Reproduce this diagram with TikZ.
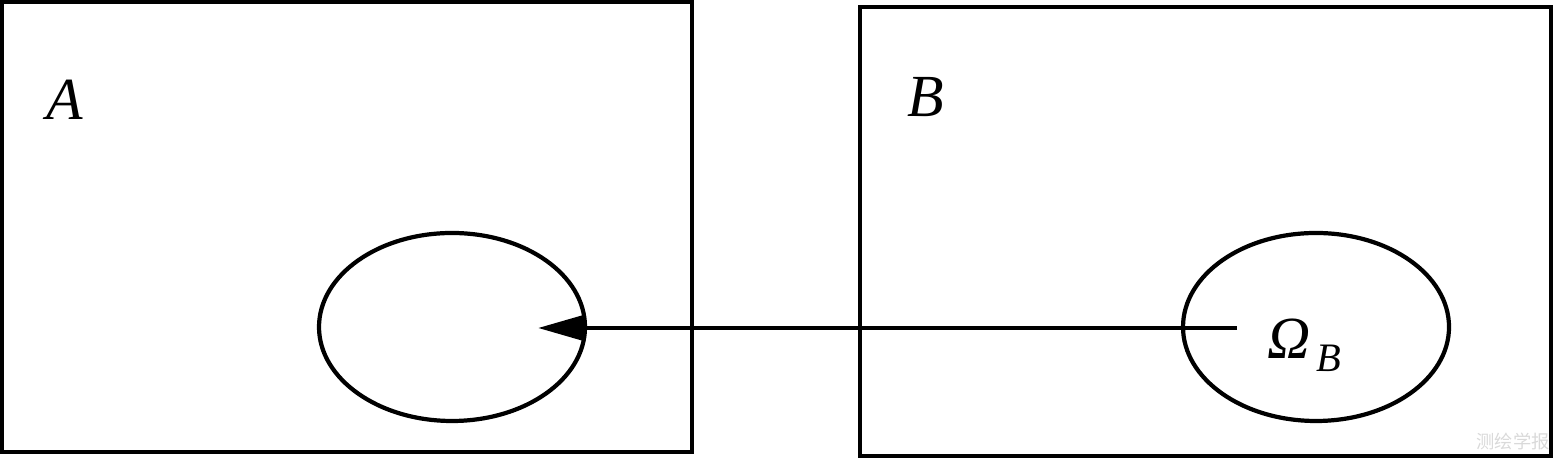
\documentclass[tikz,border=0pt]{standalone}
\usepackage{fontspec}
\setmainfont{Liberation Serif}
\newfontfamily\cjk{Noto Sans CJK SC}
\usepackage{xcolor}
\usetikzlibrary{arrows.meta,positioning,shapes.geometric}
\definecolor{Ink}{HTML}{000000}
\definecolor{Mark}{HTML}{D9D9D9}

\begin{document}
\begin{tikzpicture}[
    frame/.style={draw=Ink, line width=1.4pt},
    region/.style={ellipse, draw=Ink, line width=1.2pt, minimum width=2.66cm, minimum height=1.88cm, inner sep=0pt},
    lbl/.style={font=\fontsize{17}{20}\selectfont\itshape, inner sep=0pt}
  ]
        \useasboundingbox (0,0) rectangle (15.54,4.6);
        % the two frames
        \draw[frame] (0.02,0.08) rectangle (6.92,4.58);
        \draw[frame] (8.60,0.04) rectangle (15.51,4.53);
        \node[lbl] (labA) at (0.65,3.60) {A};
        \node[lbl] (labB) at (9.26,3.63) {B};
        % regions
        \node[region] (omA) at (4.52,1.33) {};
        \node[region] (omB) at (13.16,1.33) {};
        \node[lbl, anchor=base west] (labOm) at (12.67,1.01) {Ω\hspace{1.5pt}\raisebox{-3.7pt}{\fontsize{11.5}{13}\selectfont B}};
        % mapping
        \coordinate (src) at (12.37,1.32);
        \coordinate (dst) at (5.38,1.32);
        \draw[Ink, line width=1.3pt, -{Triangle[length=4.6mm, width=2.5mm]}] (src) -- (dst);
        \node[font=\cjk\fontsize{5.2}{6}\selectfont, text=Mark, inner sep=0pt] (mark) at (15.13,0.19) {测绘学报};
      \end{tikzpicture}
\end{document}
